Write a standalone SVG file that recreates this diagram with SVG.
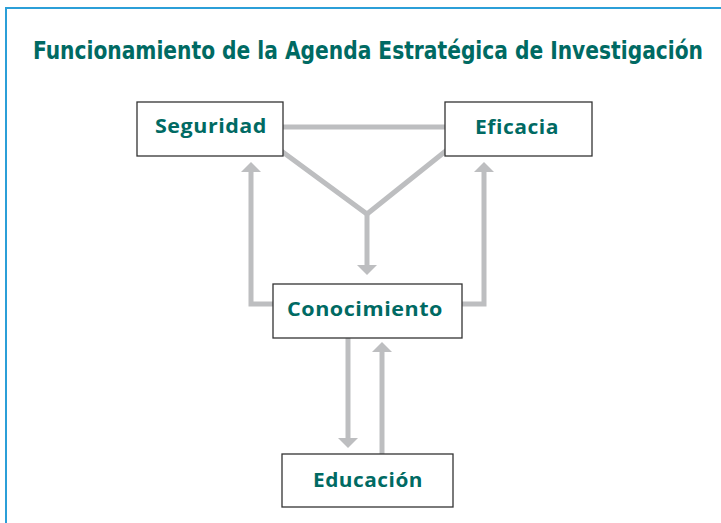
<svg xmlns="http://www.w3.org/2000/svg" width="721" height="523" viewBox="0 0 721 523">
<style>
.box{fill:#fff;stroke:#333;stroke-width:1.3}
.lbl{font-family:"Open Sans","Noto Sans",sans-serif;font-weight:700;font-size:20px;fill:#006a63;letter-spacing:0.5px}
.title{font-family:"DejaVu Sans Condensed","DejaVu Sans",sans-serif;font-stretch:condensed;font-weight:700;font-size:25px;fill:#006a63}
.c{fill:none;stroke:#bdbec0;stroke-width:5}
.h{fill:#bdbec0}
</style>
<rect width="721" height="523" fill="#fff"/>
<path d="M6,523 V8 H721" fill="none" stroke="#2b9fd8" stroke-width="2"/>
<text class="title" x="33" y="59" textLength="670" lengthAdjust="spacingAndGlyphs">Funcionamiento de la Agenda Estratégica de Investigación</text>
<g id="connectors">
<path class="c" d="M283,127 H445"/>
<path class="c" d="M280,150 L367,214 L447,150"/>
<path class="c" d="M367,214 V266"/>
<polygon class="h" points="357,265 377,265 367,275"/>
<path class="c" d="M273,304 H251 V171"/>
<polygon class="h" points="241,172 261,172 251,162"/>
<path class="c" d="M462,304 H484 V171"/>
<polygon class="h" points="474,172 494,172 484,162"/>
<path class="c" d="M348,338 V439"/>
<polygon class="h" points="338,438 358,438 348,448"/>
<path class="c" d="M382,454 V351"/>
<polygon class="h" points="372,352 392,352 382,342"/>
</g>
<g id="seguridad">
<rect class="box" x="137" y="102" width="146" height="54"/>
<text class="lbl" x="155" y="133" textLength="112" lengthAdjust="spacingAndGlyphs">Seguridad</text>
</g>
<g id="eficacia">
<rect class="box" x="445" y="102" width="147" height="54"/>
<text class="lbl" x="475" y="134" textLength="84" lengthAdjust="spacingAndGlyphs">Eficacia</text>
</g>
<g id="conocimiento">
<rect class="box" x="273" y="284" width="189" height="54"/>
<text class="lbl" x="287" y="316" textLength="156" lengthAdjust="spacingAndGlyphs">Conocimiento</text>
</g>
<g id="educacion">
<rect class="box" x="282" y="454" width="171" height="53"/>
<text class="lbl" x="313" y="487" textLength="110" lengthAdjust="spacingAndGlyphs">Educación</text>
</g>
</svg>
